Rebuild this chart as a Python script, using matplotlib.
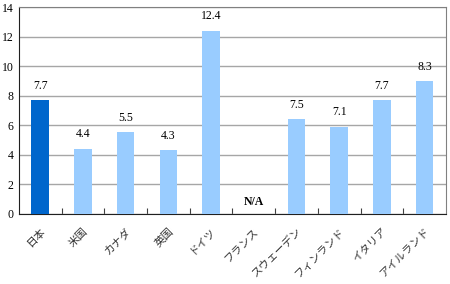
import numpy as np
import matplotlib
matplotlib.use("Agg")
import matplotlib.pyplot as plt

# data
countries = ["日本", "米国", "カナダ", "英国", "ドイツ", "フランス",
             "スウェーデン", "フィンランド", "イタリア", "アイルランド"]
bar_values = [7.7, 4.4, 5.5, 4.3, 12.4, 0.0, 6.4, 5.9, 7.7, 9.0]
bar_labels = ["7.7", "4.4", "5.5", "4.3", "12.4", "N/A", "7.5", "7.1", "7.7", "8.3"]
y_ticks = [0, 2, 4, 6, 8, 10, 12, 14]

fig = plt.figure(figsize=(4.5, 2.84), dpi=100)
ax = fig.add_axes([0.042, 0.248, 0.949, 0.727])

x = np.arange(len(countries))
colors = ["#0066CC"] + ["#99CCFF"] * (len(countries) - 1)
ax.bar(x, bar_values, width=0.41, color=colors, zorder=3)

ax.set_xlim(-0.5, len(countries) - 0.5)
ax.set_ylim(0, 14)
ax.set_yticks(y_ticks)
ax.set_yticklabels([str(v) for v in y_ticks], family="Liberation Serif", fontsize=8.5)
ax.tick_params(axis="y", length=0, pad=4)
ax.yaxis.grid(True, color="#A6A6A6", linewidth=1.0, zorder=0)

# category boundary ticks, pointing inwards
ax.set_xticks(np.arange(0.5, len(countries) - 0.5), minor=False)
ax.set_xticklabels([])
ax.tick_params(axis="x", which="major", direction="in", length=4, color="#404040")
ax.set_xticks(x, minor=True)
ax.set_xticklabels(countries, minor=True, rotation=45, ha="right",
                   rotation_mode="anchor", family=["Noto Sans CJK JP", "DejaVu Sans"],
                   fontsize=7.8, color="#333333")
ax.tick_params(axis="x", which="minor", length=0, pad=9)

for s in ["top", "right"]:
    ax.spines[s].set_color("#808080")
ax.spines["bottom"].set_color("#202020")
ax.spines["left"].set_color("#202020")

for xi, v, lab in zip(x, bar_values, bar_labels):
    if lab == "N/A":
        ax.annotate(lab, (xi, v), xytext=(0, 4), textcoords="offset points",
                    ha="center", va="bottom", family="Liberation Serif",
                    fontsize=8.5, fontweight="bold")
    else:
        ax.annotate(lab, (xi, v), xytext=(0, 6), textcoords="offset points",
                    ha="center", va="bottom", family="Liberation Serif", fontsize=8.5)

fig.savefig("out.png", dpi=100)
